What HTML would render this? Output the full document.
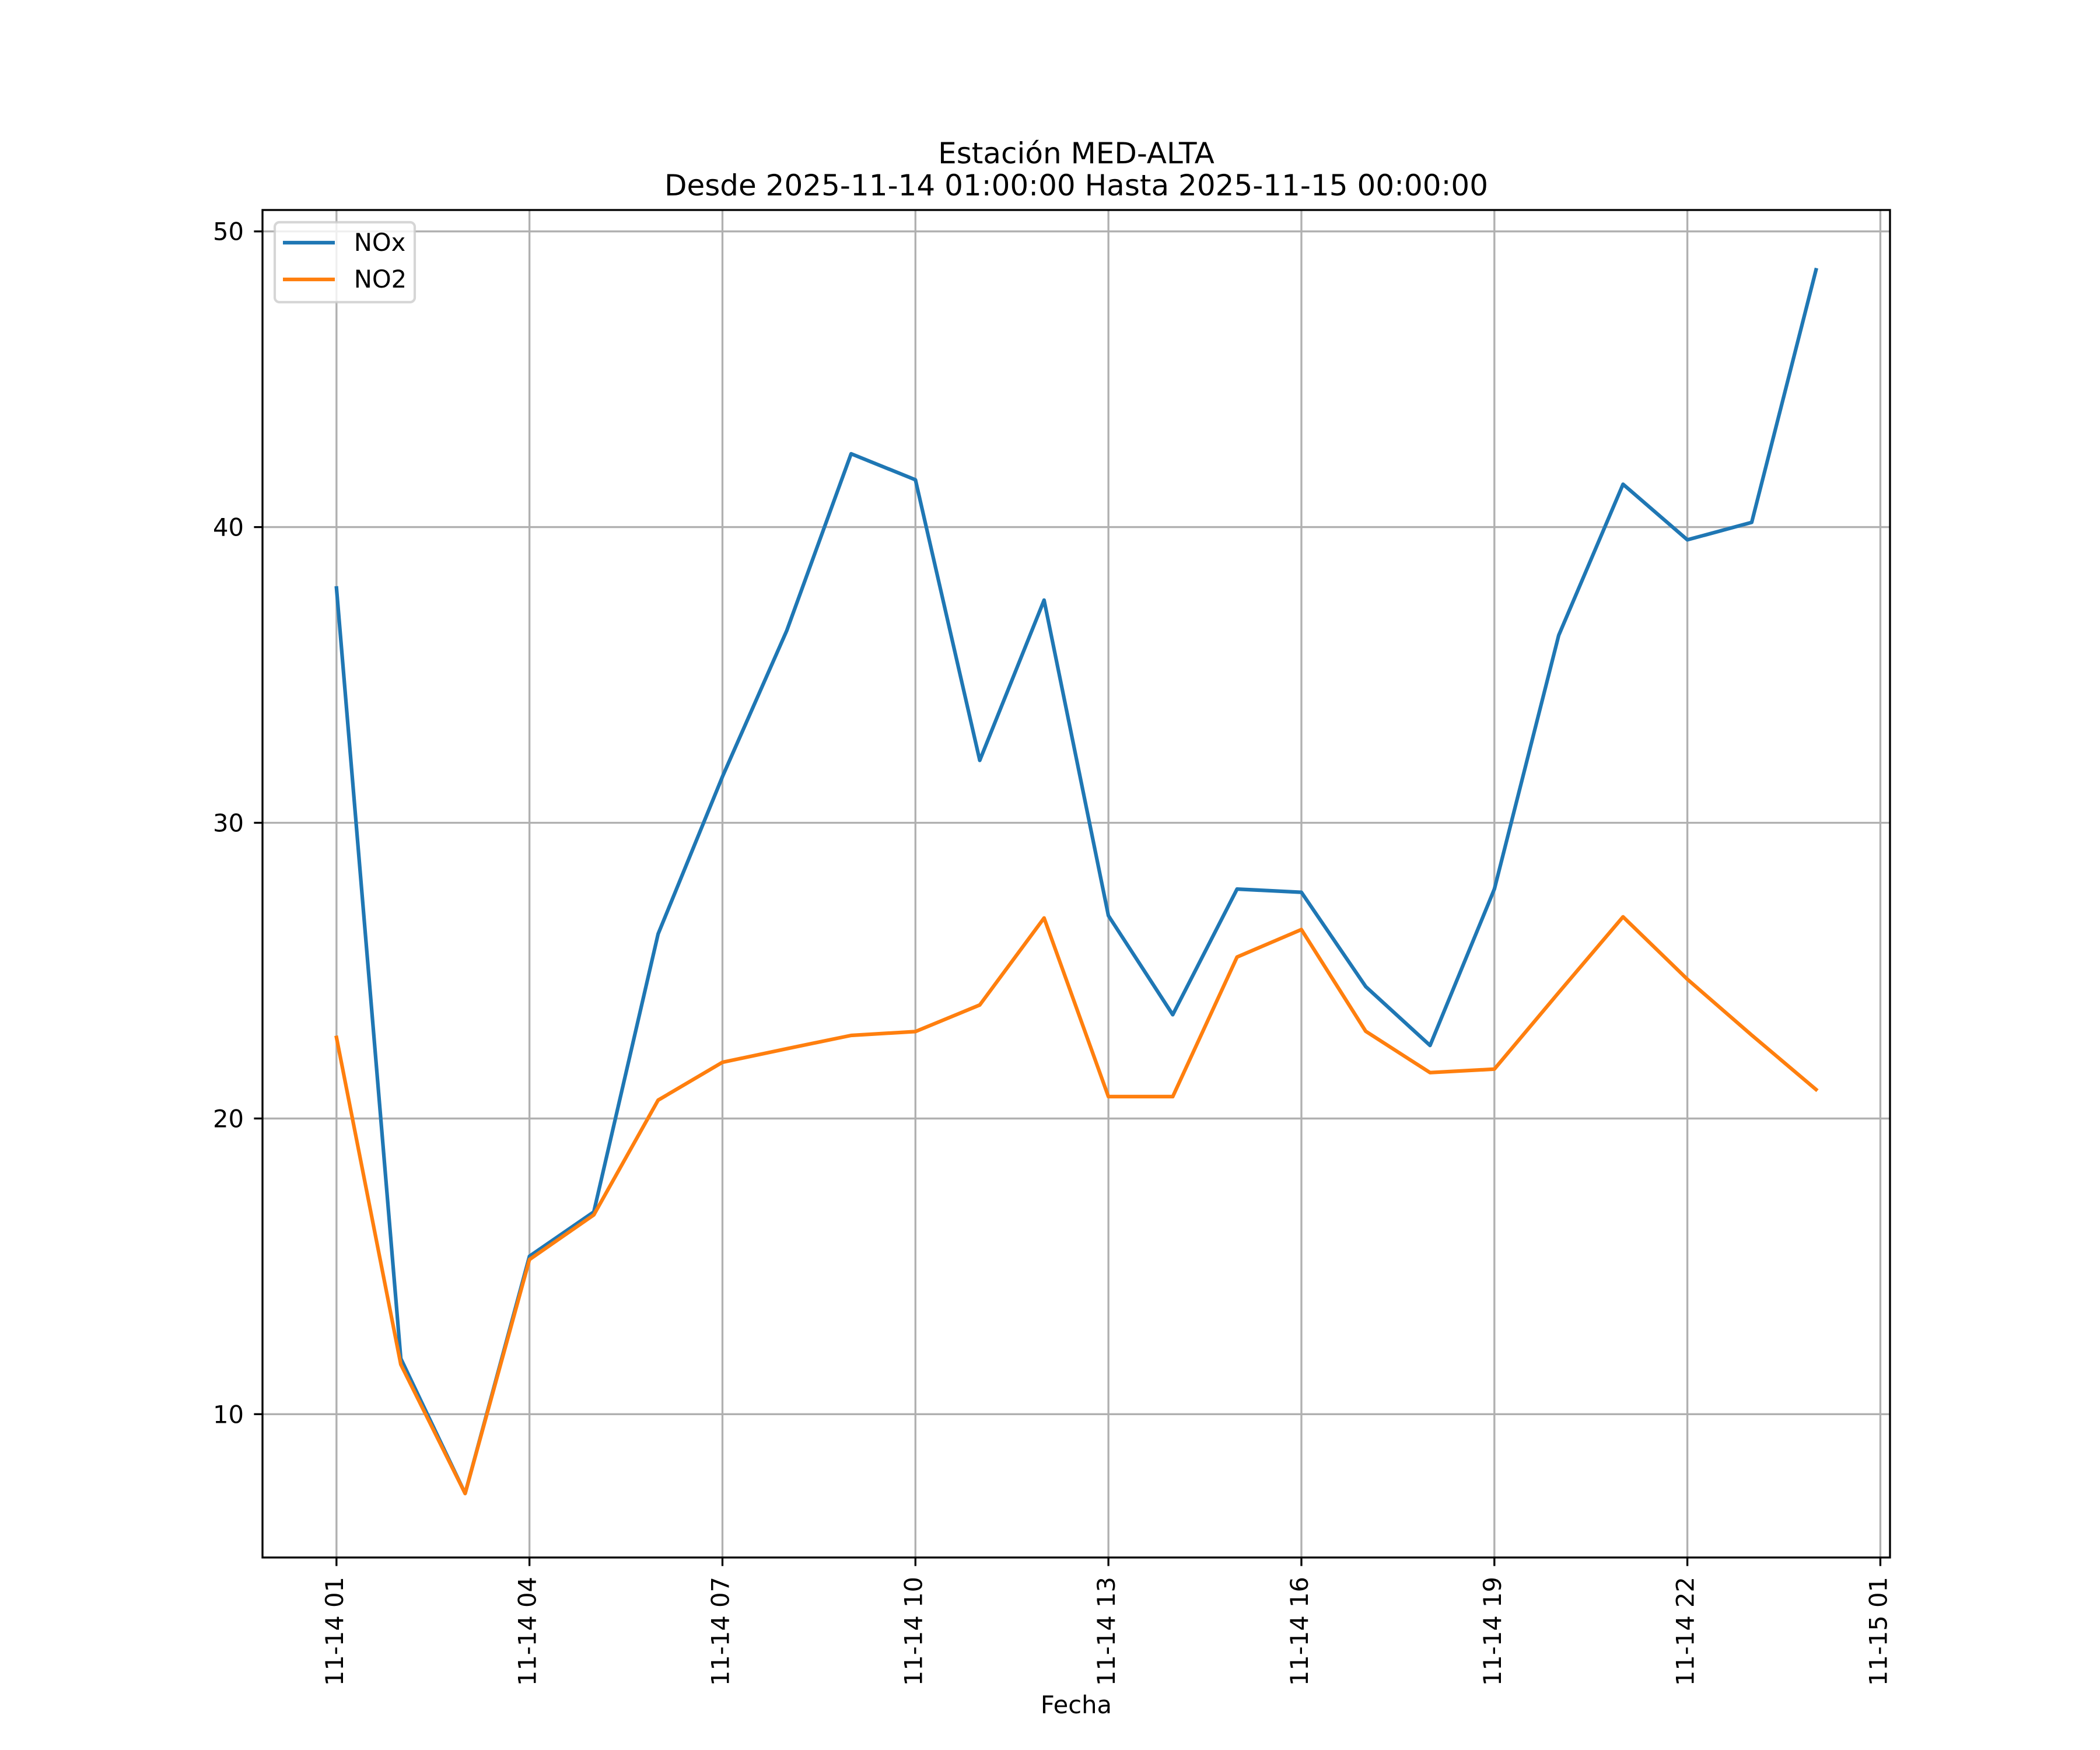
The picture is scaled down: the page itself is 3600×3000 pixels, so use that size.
<!DOCTYPE html>
<html>
<head>
<meta charset="utf-8">
<style>
  html, body { margin: 0; padding: 0; background: #ffffff; }
  svg { display: block; }
  text { font-family: "DejaVu Sans", "Liberation Sans", sans-serif; fill: #000; }
</style>
</head>
<body>
<svg width="3600" height="3000" viewBox="0 0 3600 3000" xmlns="http://www.w3.org/2000/svg">
  <rect x="0" y="0" width="3600" height="3000" fill="#ffffff"/>

  <!-- Grid lines -->
  <g stroke="#b0b0b0" stroke-width="3.33" fill="none">
    <!-- vertical -->
    <line x1="576.82" y1="360" x2="576.82" y2="2670"/>
    <line x1="907.65" y1="360" x2="907.65" y2="2670"/>
    <line x1="1238.48" y1="360" x2="1238.48" y2="2670"/>
    <line x1="1569.31" y1="360" x2="1569.31" y2="2670"/>
    <line x1="1900.14" y1="360" x2="1900.14" y2="2670"/>
    <line x1="2230.97" y1="360" x2="2230.97" y2="2670"/>
    <line x1="2561.80" y1="360" x2="2561.80" y2="2670"/>
    <line x1="2892.63" y1="360" x2="2892.63" y2="2670"/>
    <line x1="3223.46" y1="360" x2="3223.46" y2="2670"/>
    <!-- horizontal -->
    <line x1="450" y1="2424.3" x2="3240" y2="2424.3"/>
    <line x1="450" y1="1917.4" x2="3240" y2="1917.4"/>
    <line x1="450" y1="1410.5" x2="3240" y2="1410.5"/>
    <line x1="450" y1="903.6" x2="3240" y2="903.6"/>
    <line x1="450" y1="396.7" x2="3240" y2="396.7"/>
  </g>

  <!-- NOx series -->
  <polyline fill="none" stroke="#1f77b4" stroke-width="6.25" stroke-linejoin="round" stroke-linecap="square"
    points="576.82,1008.0 687.10,2329.0 797.37,2560.2 907.65,2153.6 1017.93,2077.6 1128.20,1601.1 1238.48,1331.4 1348.76,1081.0 1459.03,777.9 1569.31,822.5 1679.59,1303.5 1789.86,1028.8 1900.14,1569.7 2010.42,1739.5 2120.69,1524.1 2230.97,1529.6 2341.25,1691.3 2451.52,1792.2 2561.80,1524.1 2672.08,1089.1 2782.35,830.1 2892.63,925.4 3002.91,895.5 3113.18,462.6"/>

  <!-- NO2 series -->
  <polyline fill="none" stroke="#ff7f0e" stroke-width="6.25" stroke-linejoin="round" stroke-linecap="square"
    points="576.82,1778.5 687.10,2339.1 797.37,2560.2 907.65,2159.2 1017.93,2082.7 1128.20,1886.0 1238.48,1821.1 1348.76,1797.8 1459.03,1775.0 1569.31,1768.4 1679.59,1722.8 1789.86,1573.7 1900.14,1879.9 2010.42,1879.9 2120.69,1640.6 2230.97,1593.5 2341.25,1767.9 2451.52,1838.8 2561.80,1832.8 2672.08,1701.5 2782.35,1571.7 2892.63,1678.7 3002.91,1774.5 3113.18,1867.7"/>

  <!-- Spines -->
  <rect x="450" y="360" width="2790" height="2310" fill="none" stroke="#000" stroke-width="3.33" stroke-linejoin="miter"/>

  <!-- Y ticks -->
  <g stroke="#000" stroke-width="3.33">
    <line x1="435.4" y1="2424.3" x2="450" y2="2424.3"/>
    <line x1="435.4" y1="1917.4" x2="450" y2="1917.4"/>
    <line x1="435.4" y1="1410.5" x2="450" y2="1410.5"/>
    <line x1="435.4" y1="903.6" x2="450" y2="903.6"/>
    <line x1="435.4" y1="396.7" x2="450" y2="396.7"/>
  </g>
  <g font-size="41.67" text-anchor="end">
    <text x="418" y="2439.3">10</text>
    <text x="418" y="1932.4">20</text>
    <text x="418" y="1425.5">30</text>
    <text x="418" y="918.6">40</text>
    <text x="418" y="411.7">50</text>
  </g>

  <!-- X ticks -->
  <g stroke="#000" stroke-width="3.33">
    <line x1="576.82" y1="2670" x2="576.82" y2="2684.6"/>
    <line x1="907.65" y1="2670" x2="907.65" y2="2684.6"/>
    <line x1="1238.48" y1="2670" x2="1238.48" y2="2684.6"/>
    <line x1="1569.31" y1="2670" x2="1569.31" y2="2684.6"/>
    <line x1="1900.14" y1="2670" x2="1900.14" y2="2684.6"/>
    <line x1="2230.97" y1="2670" x2="2230.97" y2="2684.6"/>
    <line x1="2561.80" y1="2670" x2="2561.80" y2="2684.6"/>
    <line x1="2892.63" y1="2670" x2="2892.63" y2="2684.6"/>
    <line x1="3223.46" y1="2670" x2="3223.46" y2="2684.6"/>
  </g>
  <g font-size="41.67" text-anchor="end">
    <text transform="translate(588,2703) rotate(-90)">11-14 01</text>
    <text transform="translate(918.6,2703) rotate(-90)">11-14 04</text>
    <text transform="translate(1249.5,2703) rotate(-90)">11-14 07</text>
    <text transform="translate(1580.3,2703) rotate(-90)">11-14 10</text>
    <text transform="translate(1911.1,2703) rotate(-90)">11-14 13</text>
    <text transform="translate(2242,2703) rotate(-90)">11-14 16</text>
    <text transform="translate(2572.8,2703) rotate(-90)">11-14 19</text>
    <text transform="translate(2903.6,2703) rotate(-90)">11-14 22</text>
    <text transform="translate(3234.5,2703) rotate(-90)">11-15 01</text>
  </g>

  <!-- X label -->
  <text x="1845" y="2937" font-size="41.67" text-anchor="middle">Fecha</text>

  <!-- Title -->
  <g font-size="50" text-anchor="middle">
    <text x="1845" y="280">Estación MED-ALTA</text>
    <text x="1845" y="335">Desde 2025-11-14 01:00:00 Hasta 2025-11-15 00:00:00</text>
  </g>

  <!-- Legend -->
  <rect x="471" y="381" width="240" height="137" rx="8" ry="8" fill="#ffffff" fill-opacity="0.8" stroke="#cccccc" stroke-opacity="0.8" stroke-width="4.17"/>
  <line x1="485" y1="416" x2="574" y2="416" stroke="#1f77b4" stroke-width="6.25"/>
  <line x1="485" y1="479" x2="574" y2="479" stroke="#ff7f0e" stroke-width="6.25"/>
  <text x="606.7" y="430" font-size="41.67">NOx</text>
  <text x="606.7" y="493" font-size="41.67">NO2</text>
</svg>
</body>
</html>
